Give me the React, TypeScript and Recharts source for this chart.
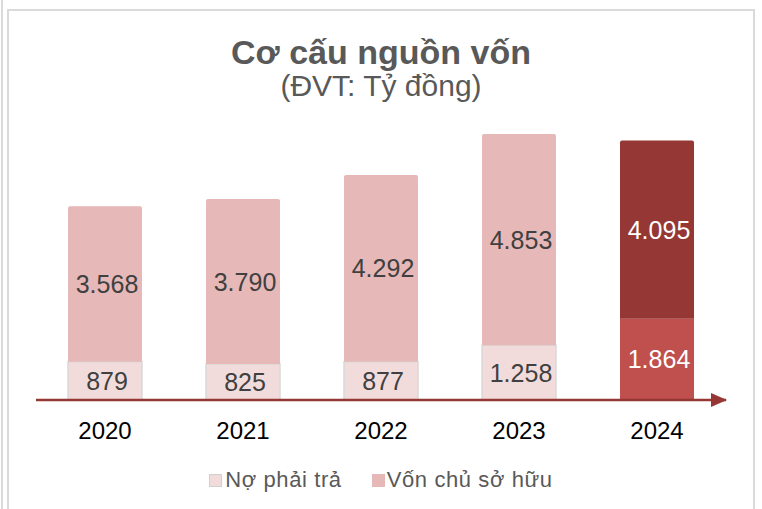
import React from 'react';
import { BarChart, Bar, XAxis, YAxis, LabelList, Cell } from 'recharts';

const years = ['2020', '2021', '2022', '2023', '2024'];
const noPhaiTra = [879, 825, 877, 1258, 1864];
const vonChuSoHuu = [3568, 3790, 4292, 4853, 4095];

const seriesNames = { no: 'Nợ phải trả', von: 'Vốn chủ sở hữu' };

const data = years.map((year, i) => ({ year, no: noPhaiTra[i], von: vonChuSoHuu[i] }));

const FONT = '"Liberation Sans", Arial, sans-serif';
const lightNo = '#f2dcdb';
const lightVon = '#e6b8b7';
const hiNo = '#c0504d';
const hiVon = '#953735';
const lastIdx = years.length - 1;

const fmt = (v: number) => String(v).replace(/\B(?=(\d{3})+(?!\d))/g, '.');

const renderLabel = (props: any) => {
    const { x, y, width, height, value, index } = props;
    return (
        <text
            x={x + width / 2 + 2}
            y={y + height / 2}
            textAnchor="middle"
            dominantBaseline="central"
            fontFamily={FONT}
            fontSize={25}
            fill={index === lastIdx ? '#ffffff' : '#404040'}
        >
            {fmt(value)}
        </text>
    );
};

const ChartLegend = () => (
    <div style={{ position: 'absolute', left: 0, top: 467, width: 762, display: 'flex', justifyContent: 'center', gap: 30, fontFamily: FONT, fontSize: 22, letterSpacing: 0.6, color: '#595959' }}>
        <div style={{ display: 'flex', alignItems: 'center' }}>
            <span style={{ width: 11, height: 11, background: lightNo, border: '1px solid #d0d0d0', marginRight: 3 }} />
            {seriesNames.no}
        </div>
        <div style={{ display: 'flex', alignItems: 'center' }}>
            <span style={{ width: 13, height: 13, background: lightVon, marginRight: 2 }} />
            {seriesNames.von}
        </div>
    </div>
);

const App: React.FC = () => {
    return (
        <div style={{ position: 'absolute', left: 0, top: 0, width: 762, height: 509, background: '#fff', overflow: 'hidden' }}>
            <svg width={0} height={0} style={{ position: 'absolute' }}>
                <defs>
                    <marker id="axisArrow" markerUnits="userSpaceOnUse" markerWidth={16} markerHeight={14} refX={15} refY={7} orient="auto">
                        <path d="M0,0 L16,7 L0,14 z" fill={hiVon} />
                    </marker>
                </defs>
            </svg>
            <div style={{ position: 'absolute', left: 1, top: 0, width: 2, height: 509, background: '#dadada' }} />
            <div style={{ position: 'absolute', left: 7, top: 9, width: 744, height: 600, border: '2px solid #dadada' }} />
            <div style={{ position: 'absolute', left: 0, top: 35, width: 762, textAlign: 'center', fontFamily: FONT, fontSize: 34, lineHeight: 1, fontWeight: 'bold', color: '#595959' }}>
                Cơ cấu nguồn vốn
            </div>
            <div style={{ position: 'absolute', left: 0, top: 71, width: 762, textAlign: 'center', fontFamily: FONT, fontSize: 30, lineHeight: 1, color: '#595959' }}>
                (ĐVT: Tỷ đồng)
            </div>
            <div style={{ position: 'absolute', left: 0, top: 0 }}>
                <BarChart width={762} height={509} data={data} margin={{ top: 130, right: 36, left: 36, bottom: 79 }}>
                    <XAxis
                        dataKey="year"
                        height={30}
                        tickLine={false}
                        tickMargin={16}
                        axisLine={{ stroke: hiVon, strokeWidth: 2.5, markerEnd: 'url(#axisArrow)' }}
                        tick={{ fill: '#000', fontSize: 24, fontFamily: FONT }}
                    />
                    <YAxis hide domain={[0, 6200]} />
                    <Bar dataKey="no" name={seriesNames.no} stackId="a" barSize={74} isAnimationActive={false}>
                        {data.map((_, i) => (
                            <Cell
                                key={i}
                                fill={i === lastIdx ? hiNo : lightNo}
                                stroke={i === lastIdx ? 'none' : '#d9d9d9'}
                                strokeWidth={1.5}
                            />
                        ))}
                        <LabelList dataKey="no" content={renderLabel} />
                    </Bar>
                    <Bar dataKey="von" name={seriesNames.von} stackId="a" barSize={74} radius={[2, 2, 0, 0]} isAnimationActive={false}>
                        {data.map((_, i) => (
                            <Cell key={i} fill={i === lastIdx ? hiVon : lightVon} />
                        ))}
                        <LabelList dataKey="von" content={renderLabel} />
                    </Bar>
                </BarChart>
            </div>
            <ChartLegend />
        </div>
    );
};

export default App;
